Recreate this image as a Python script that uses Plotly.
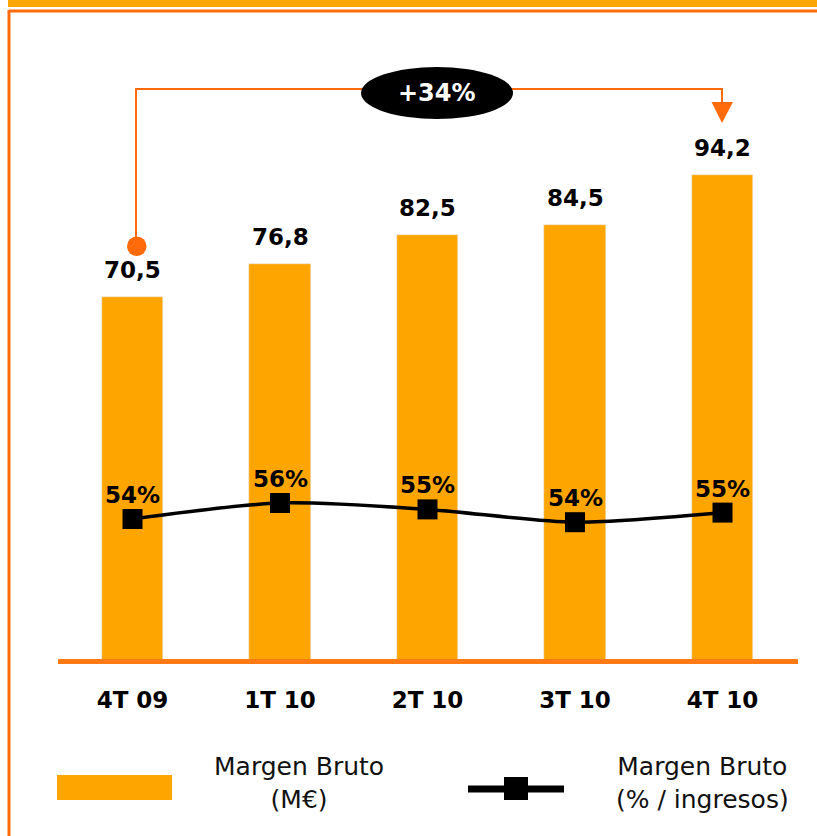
import plotly.graph_objects as go

# ---- data ----
categories = ["4T 09", "1T 10", "2T 10", "3T 10", "4T 10"]
margen_bruto_meur = [70.5, 76.8, 82.5, 84.5, 94.2]
margen_bruto_pct = [54.0, 56.0, 55.2, 53.6, 54.8]
growth_label = "+34%"
legend_bar_label = "Margen Bruto<br>(M€)"
legend_line_label = "Margen Bruto<br>(% / ingresos)"

W, H = 817, 836
PLOT_H = 661  # axis baseline pixel

BAR_COLOR = "#FFA500"
ORANGE = "#FF6A0A"
AXIS_ORANGE = "#FF7A14"


def px(x):
    return x / W


def py(y):
    return (PLOT_H - y) / PLOT_H


fig = go.Figure()

fig.add_trace(go.Bar(
    x=categories, y=margen_bruto_meur, marker_color=BAR_COLOR,
    width=0.414, hoverinfo="skip", showlegend=False,
))

fig.add_trace(go.Scatter(
    x=categories, y=margen_bruto_pct, yaxis="y2", mode="lines+markers",
    line=dict(color="black", width=3.5, shape="spline", smoothing=0.8),
    marker=dict(symbol="square", size=20, color="black"),
    hoverinfo="skip", showlegend=False, cliponaxis=False,
))

annotations = []
bold = dict(family="DejaVu Sans", size=23, color="black", weight="bold")
for c, v in zip(categories, margen_bruto_meur):
    annotations.append(dict(
        x=c, y=v, xref="x", yref="y", text=f"{v:.1f}".replace(".", ","),
        showarrow=False, yshift=27, yanchor="middle", font=bold,
    ))
for c, v in zip(categories, margen_bruto_pct):
    annotations.append(dict(
        x=c, y=v, xref="x", yref="y2", text=f"{v:.0f}%",
        showarrow=False, yshift=24, yanchor="middle", font=bold,
    ))

# growth label in ellipse
annotations.append(dict(
    x=px(437), y=py(93), xref="paper", yref="paper", text=growth_label,
    showarrow=False, xanchor="center", yanchor="middle",
    font=dict(family="DejaVu Sans", size=24, color="white", weight="bold"),
))

# legend texts
leg_font = dict(family="DejaVu Sans", size=25, color="#111111")
annotations.append(dict(
    x=px(299), y=py(783), xref="paper", yref="paper", text=legend_bar_label,
    showarrow=False, xanchor="center", yanchor="middle", align="center", font=leg_font,
))
annotations.append(dict(
    x=px(702), y=py(783), xref="paper", yref="paper", text=legend_line_label,
    showarrow=False, xanchor="center", yanchor="middle", align="center", font=leg_font,
))

shapes = []
# top strip
shapes.append(dict(type="rect", xref="paper", yref="paper", x0=px(8), x1=px(820),
                   y0=py(-2), y1=py(7), fillcolor=BAR_COLOR, line_width=0, layer="above"))
# frame lines
shapes.append(dict(type="line", xref="paper", yref="paper", x0=px(9), x1=px(820),
                   y0=py(11), y1=py(11), line=dict(color=ORANGE, width=3), layer="above"))
shapes.append(dict(type="line", xref="paper", yref="paper", x0=px(9), x1=px(9),
                   y0=py(10), y1=py(840), line=dict(color=ORANGE, width=3), layer="above"))
# axis baseline
shapes.append(dict(type="line", xref="paper", yref="paper", x0=px(58), x1=px(798),
                   y0=py(661.5), y1=py(661.5),
                   line=dict(color=AXIS_ORANGE, width=5), layer="above"))
# connector path
path = (f"M {px(136)},{py(246)} L {px(136)},{py(89)} L {px(722)},{py(89)} L {px(722)},{py(104)}")
shapes.append(dict(type="path", xref="paper", yref="paper", path=path,
                   line=dict(color=ORANGE, width=2), layer="above"))
# start dot
shapes.append(dict(type="circle", xref="paper", yref="paper", x0=px(127), x1=px(146.5),
                   y0=py(236.5), y1=py(256), fillcolor=ORANGE, line_width=0, layer="above"))
# arrow head
tri = f"M {px(711.5)},{py(102)} L {px(733)},{py(102)} L {px(722)},{py(123)} Z"
shapes.append(dict(type="path", xref="paper", yref="paper", path=tri,
                   fillcolor=ORANGE, line_width=0, layer="above"))
# ellipse
shapes.append(dict(type="circle", xref="paper", yref="paper", x0=px(361), x1=px(513),
                   y0=py(67), y1=py(119), fillcolor="black", line_width=0, layer="above"))
# legend symbols
shapes.append(dict(type="rect", xref="paper", yref="paper", x0=px(57), x1=px(172),
                   y0=py(775), y1=py(800), fillcolor=BAR_COLOR, line_width=0, layer="above"))
shapes.append(dict(type="line", xref="paper", yref="paper", x0=px(468), x1=px(564),
                   y0=py(789), y1=py(789), line=dict(color="black", width=7), layer="above"))
shapes.append(dict(type="rect", xref="paper", yref="paper", x0=px(504), x1=px(528),
                   y0=py(777), y1=py(800), fillcolor="black", line_width=0, layer="above"))

fig.update_layout(
    width=W, height=H,
    margin=dict(l=0, r=0, t=0, b=H - PLOT_H, pad=0),
    paper_bgcolor="white", plot_bgcolor="white",
    showlegend=False,
    xaxis=dict(
        type="category", range=[-132.5 / 147.5, (W - 132.5) / 147.5],
        showgrid=False, zeroline=False, showline=False,
        ticks="outside", ticklen=0, ticklabelstandoff=18,
        tickfont=dict(family="DejaVu Sans", size=23, color="black", weight="bold"),
    ),
    yaxis=dict(range=[0, PLOT_H / 5.163], visible=False, showgrid=False),
    yaxis2=dict(range=[54 - (PLOT_H - 519) / 8, 54 + 519 / 8], overlaying="y",
                visible=False, showgrid=False),
    annotations=annotations,
    shapes=shapes,
    bargap=0,
)

fig.write_html(
    "out.html",
    config={"displayModeBar": False},
    post_script="document.body.style.margin='0';document.body.style.overflow='hidden';",
)
